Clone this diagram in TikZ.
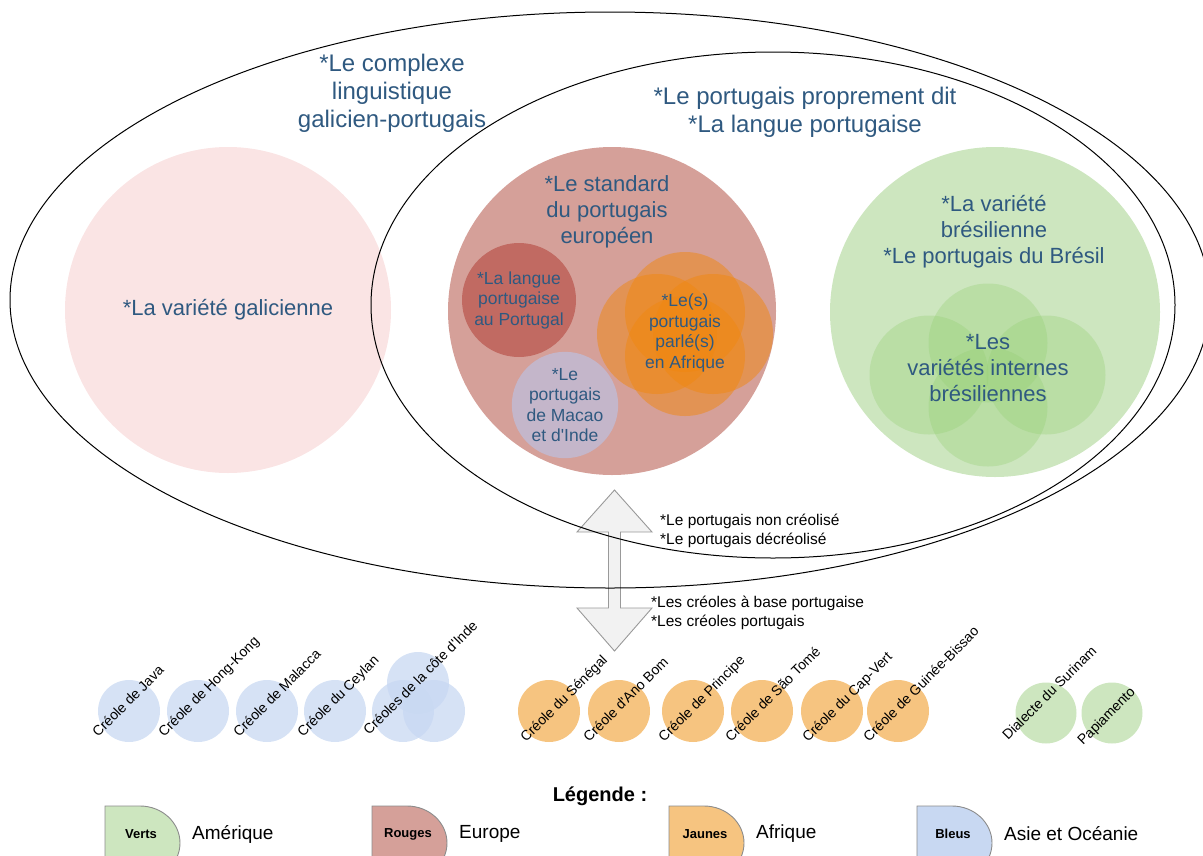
\documentclass[tikz,border=0pt]{standalone}
\usepackage{fontspec}
\setmainfont{Liberation Sans}[Ligatures=TeXOff]
\newcommand{\fsz}[2]{\fontsize{#1}{#2}\selectfont}
\definecolor{txtbleu}{RGB}{47,89,128}
\definecolor{galrose}{RGB}{250,228,228}
\definecolor{eurrose}{RGB}{213,160,153}
\definecolor{portrouge}{RGB}{193,106,98}
\definecolor{macaomauve}{RGB}{196,182,202}
\definecolor{afrorange}{RGB}{240,136,16}
\definecolor{brvert}{RGB}{205,230,191}
\definecolor{brfonce}{RGB}{151,208,119}
\definecolor{crbleu}{RGB}{200,216,242}
\definecolor{crjaune}{RGB}{246,196,128}
\definecolor{crvert}{RGB}{205,230,191}
\definecolor{flechegris}{RGB}{242,242,242}
\begin{document}
\begin{tikzpicture}[x=1pt,y=-1pt,
	rond/.style={circle,inner sep=0pt,minimum size=#1},
	lab/.style={text=txtbleu,align=center,font=\fsz{22}{26}},
	petit/.style={text=txtbleu,align=center,font=\fsz{17.5}{20.5}},
	titre/.style={text=txtbleu,align=center,font=\fsz{24}{28}},
	noir/.style={align=left,inner sep=0pt,font=\fsz{15.5}{19.5}},
	creole/.style={rotate=45,anchor=base west,inner sep=0pt,font=\fsz{14}{16}},
	legbox/.style={draw=black!45,line width=0.9pt}]
	\useasboundingbox (0,0) rectangle (1203,855);
	\clip (0,0) rectangle (1203,855);
	% grands cercles
	\node[rond=326,fill=galrose,lab] (galice) at (228,310) {*La variété galicienne};
	\node[rond=328,fill=eurrose] (europe) at (612,311) {};
	\node[lab] (eurtxt) at (607,212) {*Le standard\\du portugais\\européen};
	\node[rond=114,fill=portrouge,petit] (portugal) at (519,300) {*La langue\\portugaise\\au Portugal};
	\node[rond=97,fill=macaomauve,petit] (macao) at (565,405) {*Le\\portugais\\de Macao\\et d'Inde};
	\foreach \dx/\dy [count=\i] in {0/-22,0/22,-28/0,28/0}
		\node[rond=120,fill=afrorange,fill opacity=0.5] (afr\i) at (685+\dx,334+\dy) {};
	\node[petit] (afrtxt) at (685,333) {*Le(s)\\portugais\\parlé(s)\\en Afrique};
	\node[rond=330,fill=brvert] (bresil) at (995,312) {};
	\node[lab] (brtxt) at (994,232) {*La variété\\brésilienne\\*Le portugais du Brésil};
	\foreach \dx/\dy [count=\i] in {0/-32,0/32,-59/0,58/0}
		\node[rond=119,fill=brfonce,fill opacity=0.35] (br\i) at (988+\dx,375+\dy) {};
	\node[lab] (brvar) at (988,368) {*Les\\variétés internes\\brésiliennes};
	% titres
	\node[titre] (complexe) at (392,93) {*Le complexe\\linguistique\\galicien-portugais};
	\node[titre] (propre) at (805,112) {*Le portugais proprement dit\\*La langue portugaise};
	% double fleche
	\draw[fill=flechegris,draw=black!40,line width=0.9pt] (614.5,490) -- (652,532) -- (620.5,532) -- (620.5,608) -- (652,608)
		-- (614.5,651) -- (577,608) -- (608.5,608) -- (608.5,532) -- (577,532) -- cycle;
	\node[noir,anchor=west] (noncreo) at (660,531) {*Le portugais non créolisé\\*Le portugais décréolisé};
	\node[noir,anchor=west] (creo) at (651,613) {*Les créoles à base portugaise\\*Les créoles portugais};
	% ellipses
	\draw[line width=1pt] (610,300) ellipse [x radius=600,y radius=288];
	\draw[line width=1pt] (773,305) ellipse [x radius=402,y radius=253];
	% creoles
	\foreach \cx/\tx/\txt [count=\i] in {129/98/Créole de Java,198/164/Créole de Hong-Kong,267/239/Créole de Malacca,335/303/Créole du Ceylan}{
		\node[rond=62,fill=crbleu,fill opacity=0.75] (asie\i) at (\cx,711) {};
		\node[creole] (asietxt\i) at (\tx,738) {\txt};
	}
	\foreach \cx/\cy [count=\i] in {403/711,434/711,418/683}
		\node[rond=62,fill=crbleu,fill opacity=0.75] (inde\i) at (\cx,\cy) {};
	\node[creole] (indetxt) at (369,736) {Créoles de la côte d'Inde};
	\foreach \cx/\tx/\txt [count=\i] in {549/526/Créole du Sénégal,619/589/Créole d'Ano Bom,693/664/Créole de Principe,762/731/Créole de São Tomé,832/808/Créole du Cap-Vert,898/869/Créole de Guinée-Bissao}{
		\node[rond=62,fill=crjaune] (afri\i) at (\cx,711) {};
		\node[creole] (afritxt\i) at (\tx,743) {\txt};
	}
	\node[rond=61,fill=crvert] (surinam) at (1046,713) {};
	\node[creole] (surinamtxt) at (1008,741) {Dialecte du Surinam};
	\node[rond=61,fill=crvert] (papia) at (1112,713) {};
	\node[creole] (papiatxt) at (1083,746) {Papiamento};
	% legende
	\node[font=\bfseries\fsz{20}{24}] (legende) at (600,796) {Légende :};
	\foreach \lx/\col/\nm/\lab [count=\i] in {105/crvert/Verts/Amérique,372/eurrose/Rouges/Europe,669/crjaune/Jaunes/Afrique,917/crbleu/Bleus/Asie et Océanie}{
		\draw[legbox,fill=\col] (\lx,880) -- (\lx,806) -- (\lx+35,806) arc[start angle=-90,end angle=90,x radius=40,y radius=37] -- cycle;
		\node[font=\bfseries\fsz{13}{15}] (leg\i) at (\lx+36,834) {\nm};
		\node[anchor=west,inner sep=0pt,font=\fsz{19}{22}] (legtxt\i) at (\lx+87,834) {\lab};
	}
\end{tikzpicture}
\end{document}
